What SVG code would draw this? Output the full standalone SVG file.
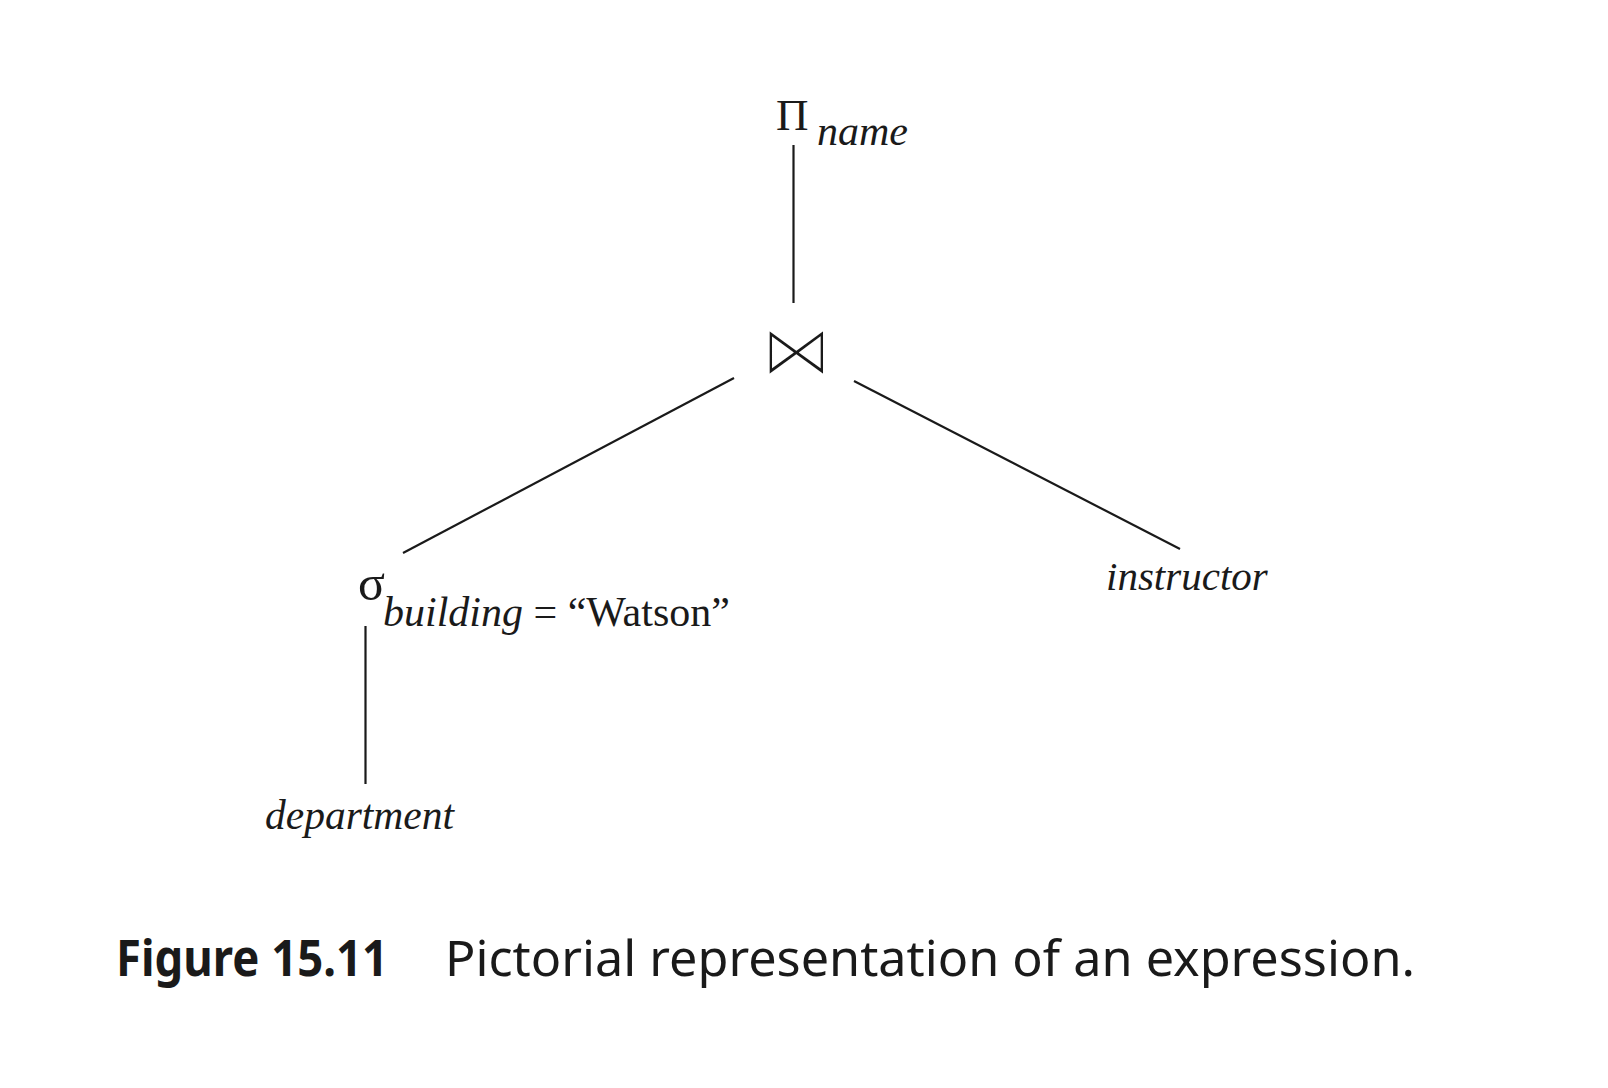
<svg xmlns="http://www.w3.org/2000/svg" width="1608" height="1088" viewBox="0 0 1608 1088">
<style>
.serif{font-family:"Liberation Serif","Times New Roman",serif;fill:#1a1a1a}
.it{font-style:italic}
.edge{stroke:#1a1a1a;stroke-width:2.2;fill:none;stroke-linecap:butt}
.cap{font-family:"Noto Sans","Open Sans",sans-serif;fill:#1a1a1a;font-size:50px}
.op{font-family:"DejaVu Sans",sans-serif;fill:#1a1a1a;stroke:#ffffff;stroke-width:3.6;paint-order:fill stroke}
</style>
<rect width="1608" height="1088" fill="#ffffff"/>
<g id="connectors">
<line class="edge" x1="793.5" y1="145" x2="793.5" y2="303"/>
<line class="edge" x1="734" y1="378" x2="403" y2="553"/>
<line class="edge" x1="854" y1="381" x2="1180" y2="549"/>
<line class="edge" x1="365.5" y1="626" x2="365.5" y2="784"/>
</g>
<g id="node-project">
<text class="serif" x="776" y="130" font-size="45">Π</text>
<text class="serif it" x="817" y="145" font-size="42">name</text>
</g>
<g id="node-join">
<text class="op" x="796" y="375" font-size="72" text-anchor="middle">⋈</text>
</g>
<g id="node-select">
<text class="serif" x="358" y="600" font-size="50">σ</text>
<text class="serif" x="383" y="626" font-size="42"><tspan class="it">building</tspan> = “Watson”</text>
</g>
<g id="node-instructor">
<text class="serif it" x="1106" y="590" font-size="41">instructor</text>
</g>
<g id="node-department">
<text class="serif it" x="265" y="829" font-size="41.5">department</text>
</g>
<g id="caption">
<text class="cap" x="116" y="976" font-weight="bold" textLength="272" lengthAdjust="spacingAndGlyphs">Figure 15.11</text>
<text class="cap" x="445" y="976" textLength="970" lengthAdjust="spacingAndGlyphs">Pictorial representation of an expression.</text>
</g>
</svg>
